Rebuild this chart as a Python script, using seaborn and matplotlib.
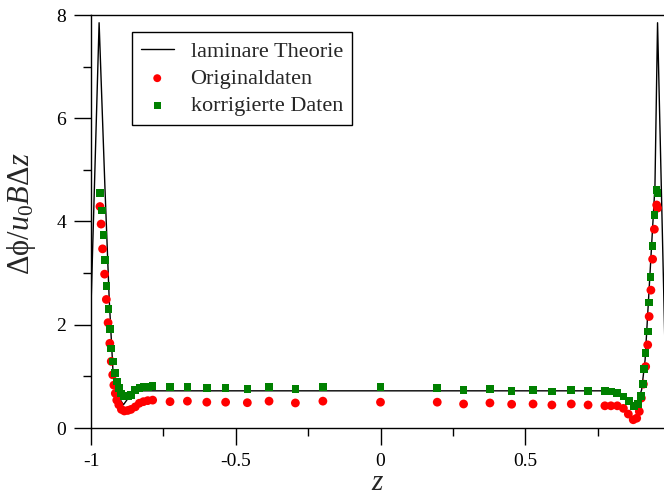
import numpy as np
import pandas as pd
import matplotlib
matplotlib.use("Agg")
import matplotlib.pyplot as plt
import seaborn as sns
from matplotlib.ticker import MultipleLocator

# ---- data ----
theory_z = [-1.012, -0.972, -0.952, -0.937, -0.923, -0.905, -0.888, -0.853,
            0.80, 0.84, 0.87, 0.882, 0.895, 0.902, 0.914, 0.931, 0.948, 0.957, 0.989]
theory_v = [0.0, 7.85, 4.68, 2.48, 0.99, 0.60, 0.45, 0.72,
            0.72, 0.65, 0.45, 0.40, 0.62, 0.74, 1.32, 3.0, 4.68, 7.85, 0.0]

orig_z = [-0.969, -0.965, -0.960, -0.953, -0.947, -0.941, -0.935, -0.930, -0.925, -0.921,
          -0.916, -0.911, -0.904, -0.895, -0.885, -0.873, -0.862, -0.847, -0.833, -0.819,
          -0.804, -0.787,
          -0.727, -0.667, -0.600, -0.535, -0.460, -0.385, -0.294, -0.199, 0.0, 0.196,
          0.287, 0.378, 0.453, 0.527, 0.592, 0.659, 0.717,
          0.775, 0.796, 0.818, 0.839, 0.856, 0.873, 0.885, 0.894, 0.901, 0.908,
          0.916, 0.923, 0.928, 0.934, 0.940, 0.946, 0.954, 0.957]
orig_v = [4.29, 3.95, 3.47, 2.98, 2.49, 2.04, 1.64, 1.29, 1.03, 0.83,
          0.67, 0.54, 0.45, 0.36, 0.33, 0.34, 0.36, 0.41, 0.48, 0.51,
          0.53, 0.54,
          0.51, 0.52, 0.50, 0.50, 0.49, 0.52, 0.485, 0.52, 0.50, 0.50,
          0.465, 0.485, 0.46, 0.465, 0.446, 0.465, 0.446,
          0.43, 0.43, 0.43, 0.38, 0.27, 0.16, 0.19, 0.32, 0.58, 0.85,
          1.19, 1.61, 2.16, 2.67, 3.27, 3.85, 4.32, 4.26]

corr_z = [-0.969, -0.963, -0.9575, -0.952, -0.946, -0.940, -0.934, -0.930, -0.923, -0.917,
          -0.911, -0.904, -0.896, -0.885, -0.873, -0.862, -0.847, -0.833, -0.819, -0.804,
          -0.787,
          -0.727, -0.667, -0.600, -0.535, -0.460, -0.385, -0.294, -0.199, 0.0, 0.196,
          0.287, 0.378, 0.453, 0.527, 0.592, 0.659, 0.717,
          0.775, 0.796, 0.816, 0.839, 0.859, 0.876, 0.890, 0.899, 0.906, 0.911,
          0.916, 0.923, 0.927, 0.933, 0.940, 0.946, 0.954, 0.957]
corr_v = [4.55, 4.21, 3.74, 3.26, 2.75, 2.30, 1.92, 1.54, 1.29, 1.06,
          0.90, 0.77, 0.67, 0.62, 0.61, 0.64, 0.74, 0.77, 0.79, 0.80,
          0.81,
          0.80, 0.80, 0.77, 0.77, 0.756, 0.79, 0.756, 0.79, 0.79, 0.77,
          0.736, 0.75, 0.72, 0.736, 0.71, 0.736, 0.717,
          0.72, 0.71, 0.68, 0.61, 0.52, 0.43, 0.47, 0.62, 0.85, 1.14,
          1.45, 1.87, 2.43, 2.93, 3.53, 4.13, 4.61, 4.55]

x_ticks = [-1, -0.5, 0, 0.5]
x_tick_labels = ["-1", "-0.5", "0", "0.5"]
y_ticks = [0, 2, 4, 6, 8]

labels = ["laminare Theorie", "Originaldaten", "korrigierte Daten"]

# ---- style ----
sns.set_style("ticks")
plt.rcParams['font.family'] = ['Liberation Serif', 'DejaVu Serif']
plt.rcParams['mathtext.fontset'] = 'custom'
plt.rcParams['mathtext.rm'] = 'Liberation Serif'
plt.rcParams['mathtext.it'] = 'Liberation Serif:italic'

fig = plt.figure(figsize=(6.64, 4.98), dpi=100)
ax = fig.add_axes([91/664, 70/498, 573/664, 413/498])

df_t = pd.DataFrame({"z": theory_z, "v": theory_v})
df_o = pd.DataFrame({"z": orig_z, "v": orig_v})
df_c = pd.DataFrame({"z": corr_z, "v": corr_v})

sns.lineplot(data=df_t, x="z", y="v", sort=False, color="black", lw=1.0,
             ax=ax, label=labels[0], zorder=2)
sns.scatterplot(data=df_o, x="z", y="v", color="#ff0000", marker="o", s=40,
                edgecolor="none", ax=ax, label=labels[1], zorder=3)
sns.scatterplot(data=df_c, x="z", y="v", color="#008000", marker="s", s=30,
                edgecolor="none", ax=ax, label=labels[2], zorder=4)

ax.set_xlim(-1, (664 - 380.5) / 289.5)
ax.set_ylim(0, 8)
ax.set_xticks(x_ticks)
ax.set_xticklabels(x_tick_labels)
ax.set_yticks(y_ticks)
ax.xaxis.set_minor_locator(MultipleLocator(0.25))
ax.yaxis.set_minor_locator(MultipleLocator(1))
ax.tick_params(which='major', direction='out', length=12, width=1.0,
               labelsize=14, color='black', labelcolor='black', pad=6)
ax.tick_params(which='minor', direction='out', length=6, width=1.0, color='black')
ax.tick_params(top=False, right=False, which='both')
for side in ['left', 'bottom', 'top']:
    ax.spines[side].set_linewidth(1.0)
    ax.spines[side].set_color('black')
ax.spines['right'].set_visible(False)

ax.set_xlabel(r"$z$", fontsize=21, labelpad=0)
ax.set_ylabel("Δϕ/" + r"$u_{\mathit{0}}B$" + "Δ" + r"$z$", fontsize=22)
ax.yaxis.set_label_coords(-0.092, 0.52)

leg = ax.legend(loc='upper left', bbox_to_anchor=(0.071, 0.958), borderaxespad=0,
                fontsize=16, frameon=True, fancybox=False, edgecolor='black',
                framealpha=1, handlelength=1.5, handletextpad=0.75,
                labelspacing=0.3, borderpad=0.4, markerscale=0.9)
leg.get_frame().set_linewidth(1.0)

fig.savefig("out.png", dpi=100)
